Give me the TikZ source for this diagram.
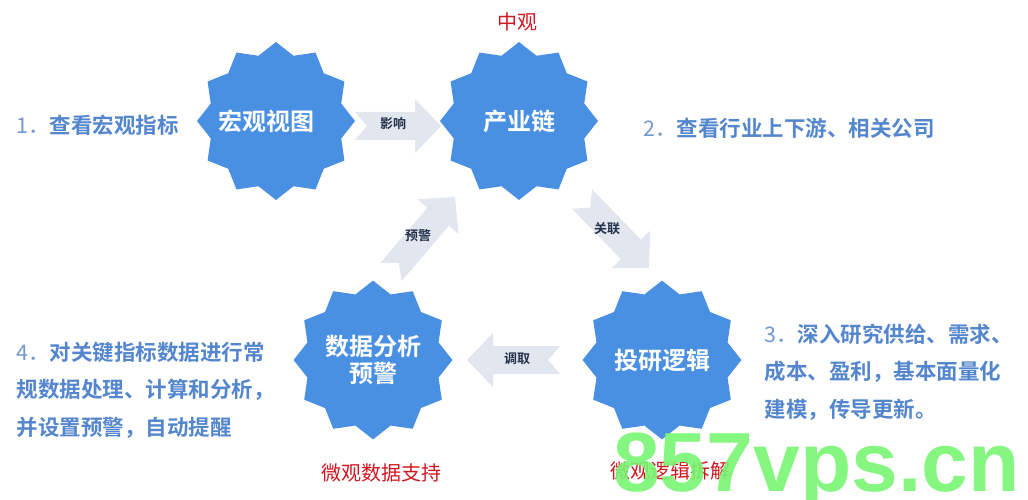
\documentclass[tikz,border=0pt]{standalone}
\usepackage{fontspec}
\setmainfont{Noto Sans CJK SC}[BoldFont={Noto Sans CJK SC Bold}]
\newfontfamily\wmfont{Liberation Sans}
\usetikzlibrary{shapes.geometric,calc}

\definecolor{starblue}{RGB}{74,144,226}
\definecolor{arrowgray}{RGB}{226,230,238}
\definecolor{notetext}{RGB}{84,134,205}
\definecolor{numtext}{RGB}{115,152,205}
\definecolor{labeldark}{RGB}{35,50,75}
\definecolor{microred}{RGB}{208,22,32}
\definecolor{wmgreen}{RGB}{120,246,115}

% block arrow with notched tail: #1 = tail, #2 = tip
\newcommand{\blockarrow}[2]{%
  \coordinate (#1-hb) at ($(#2)!26pt!(#1)$);
  \fill[arrowgray] ($(#1)!14pt!90:(#2)$) -- ($(#1-hb)!14pt!90:(#2)$) -- ($(#1-hb)!27pt!90:(#2)$) -- (#2)
    -- ($(#1-hb)!27pt!-90:(#2)$) -- ($(#1-hb)!14pt!-90:(#2)$) -- ($(#1)!14pt!-90:(#2)$) -- ($(#1)!12pt!(#2)$) -- cycle;}

\begin{document}
\begin{tikzpicture}[x=1pt, y=-1pt,
    starnode/.style = {shape=star, star points=12, star point ratio=1.17, minimum size=158pt, inner sep=0pt,
                       fill=starblue, text=white, align=center, font=\fontsize{24}{29}\selectfont\bfseries},
    flowlabel/.style = {text=labeldark, font=\fontsize{13}{15}\selectfont\bfseries},
    note/.style = {anchor=west, align=left, text=notetext, font=\fontsize{21.5}{37.5}\selectfont\bfseries},
    redlabel/.style = {text=microred, font=\fontsize{20}{24}\selectfont}]
  \useasboundingbox (0,0) rectangle (1028,500);

  \node[starnode] (hongguan) at (276,121) {\makebox[0pt]{宏观视图\hspace*{20pt}}};
  \node[starnode] (chanye) at (519,121) {产业链};
  \node[starnode] (touyan) at (662,360) {投研逻辑};
  \node[starnode] (shuju) at (373,360) {数据分析\\[-2pt]预警};

  % arrows between the stars
  \coordinate (yx-s) at (355,126);  \coordinate (yx-t) at (441,126);
  \coordinate (gl-s) at (582,199);  \coordinate (gl-t) at (649,268);
  \coordinate (dq-s) at (560,360);  \coordinate (dq-t) at (467,360);
  \coordinate (yj-s) at (391,272);  \coordinate (yj-t) at (455,197);
  \blockarrow{yx-s}{yx-t}
  \blockarrow{gl-s}{gl-t}
  \blockarrow{dq-s}{dq-t}
  \blockarrow{yj-s}{yj-t}
  \node[flowlabel] (yingxiang) at (393,124) {影响};
  \node[flowlabel] (guanlian) at (607,229) {关联};
  \node[flowlabel] (diaoqu) at (517,359) {调取};
  \node[flowlabel] (yujing) at (418,236) {预警};

  % notes
  \node[note] (note1) at (13,125) {{\mdseries\color{numtext}1．}查看宏观指标};
  \node[note] (note2) at (640,128) {{\mdseries\color{numtext}2．}查看行业上下游、相关公司};
  \node[note] (note3) at (761,372) {{\mdseries\color{numtext}3．}深入研究供给、需求、\\成本、盈利，基本面量化\\建模，传导更新。};
  \node[note] (note4) at (13,390) {{\mdseries\color{numtext}4．}对关键指标数据进行常\\规数据处理、计算和分析，\\并设置预警，自动提醒};

  \node[redlabel] (zhongguan) at (517,22) {中观};
  \node[redlabel] (weiguan1) at (381,473) {微观数据支持};
  \node[redlabel] (weiguan2) at (670,471) {微观逻辑拆解};

  \node[anchor=base west, inner sep=0pt, text=wmgreen, text opacity=0.9, font=\wmfont\bfseries\fontsize{84}{84}\selectfont] (wm) at (613,491) {857vps.cn};
\end{tikzpicture}
\end{document}
